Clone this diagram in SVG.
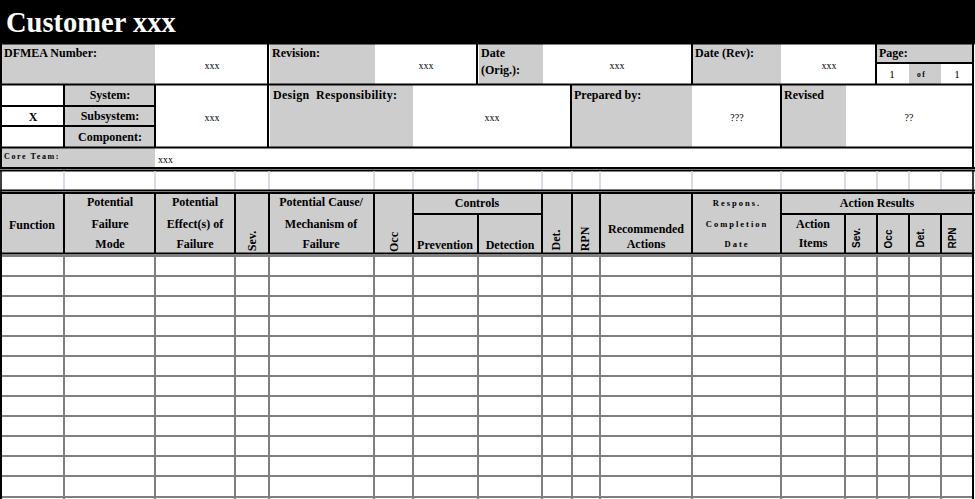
<svg xmlns="http://www.w3.org/2000/svg" width="975" height="499" viewBox="0 0 975 499">
<style>
.g{fill:#cdcdcd}
.b{stroke:#000;stroke-width:2;fill:none}
.b1{stroke:#000;stroke-width:1.5;fill:none}
.gl{stroke:#808080;stroke-width:2;fill:none}
.lb{stroke:#c9d0e3;stroke-width:1.5;fill:none}
.lbl{font-family:"Liberation Serif",serif;font-weight:bold;font-size:12px;fill:#000}
.val{font-family:"Liberation Serif",serif;font-size:10px;fill:#000}
.h{font-family:"Liberation Serif",serif;font-weight:bold;font-size:12px;fill:#000}
.hs{font-family:"Liberation Sans",sans-serif;font-weight:bold;font-size:10px;fill:#000}
.sp{font-family:"Liberation Serif",serif;font-weight:bold;font-size:8.5px;letter-spacing:2px;fill:#000}
.c{text-anchor:middle}
</style>
<rect x="0" y="0" width="975" height="499" fill="#fff"/>

<g id="title">
<rect x="0" y="0" width="975" height="43" fill="#000"/>
<text x="6" y="32" font-family="Liberation Serif, serif" font-weight="bold" font-size="28.5" fill="#fff">Customer xxx</text>
</g>

<g id="row-info">
<rect class="g" x="2" y="44" width="153" height="40"/>
<rect class="g" x="270" y="44" width="105" height="40"/>
<rect class="g" x="479" y="44" width="64" height="40"/>
<rect class="g" x="693" y="44" width="88" height="40"/>
<rect class="g" x="877" y="44" width="96" height="19"/>
<rect class="g" x="909" y="64" width="32" height="20"/>
<text class="lbl" x="4" y="57">DFMEA Number:</text>
<text class="val c" x="212" y="69">xxx</text>
<text class="lbl" x="272" y="57">Revision:</text>
<text class="val c" x="426" y="69">xxx</text>
<text class="lbl" x="481" y="57">Date</text>
<text class="lbl" x="481" y="74">(Orig.):</text>
<text class="val c" x="617" y="69">xxx</text>
<text class="lbl" x="695" y="57">Date (Rev):</text>
<text class="val c" x="829" y="69">xxx</text>
<text class="lbl" x="879" y="57">Page:</text>
<text class="val c" x="892" y="78" style="font-size:11px">1</text>
<text class="sp" x="917" y="77" style="font-size:7.5px;letter-spacing:1.5px">of</text>
<text class="val c" x="957" y="78" style="font-size:11px">1</text>
</g>

<g id="row-scope">
<rect class="g" x="65" y="85" width="90" height="62"/>
<rect class="g" x="270" y="85" width="143" height="62"/>
<rect class="g" x="572" y="85" width="120" height="62"/>
<rect class="g" x="782" y="85" width="64" height="62"/>
<text class="h c" x="33" y="121">X</text>
<text class="lbl c" x="110" y="99">System:</text>
<text class="lbl c" x="110" y="120">Subsystem:</text>
<text class="lbl c" x="110" y="141">Component:</text>
<text class="val c" x="212" y="121">xxx</text>
<text class="lbl" x="273" y="99" xml:space="preserve" style="letter-spacing:0.3px">Design  Responsibility:</text>
<text class="val c" x="492" y="121">xxx</text>
<text class="lbl" x="574" y="99">Prepared by:</text>
<text class="val c" x="737" y="121">???</text>
<text class="lbl" x="784" y="99">Revised</text>
<text class="val c" x="909" y="121">??</text>
</g>

<g id="row-team">
<rect class="g" x="2" y="148" width="153" height="20"/>
<text class="sp" x="4" y="159" style="font-size:8px;letter-spacing:1.6px">Core Team:</text>
<text class="val" x="158" y="163">xxx</text>
</g>

<g id="header-fill">
<rect class="g" x="1" y="193" width="972" height="61"/>
</g>

<g id="header-text">
<text class="h c" x="32" y="229">Function</text>
<text class="h c" x="110" y="206">Potential</text>
<text class="h c" x="110" y="228">Failure</text>
<text class="h c" x="110" y="248">Mode</text>
<text class="h c" x="195" y="206">Potential</text>
<text class="h c" x="195" y="228">Effect(s) of</text>
<text class="h c" x="195" y="248">Failure</text>
<text class="h c" transform="translate(256,241) rotate(-90)">Sev.</text>
<text class="h c" x="321" y="206">Potential Cause/</text>
<text class="h c" x="321" y="228">Mechanism of</text>
<text class="h c" x="321" y="248">Failure</text>
<text class="h c" transform="translate(398,242) rotate(-90)">Occ</text>
<text class="h c" x="477" y="207">Controls</text>
<text class="h c" x="445" y="249">Prevention</text>
<text class="h c" x="510" y="249">Detection</text>
<text class="h c" transform="translate(560,240) rotate(-90)">Det.</text>
<text class="h c" transform="translate(589,239) rotate(-90)">RPN</text>
<text class="h c" x="646" y="233">Recommended</text>
<text class="h c" x="646" y="248">Actions</text>
<text class="sp c" x="737" y="206">Respons.</text>
<text class="sp c" x="737" y="227">Completion</text>
<text class="sp c" x="737" y="247">Date</text>
<text class="h c" x="877" y="207">Action Results</text>
<text class="h c" x="813" y="228">Action</text>
<text class="h c" x="813" y="247">Items</text>
<text class="hs c" transform="translate(860,238) rotate(-90)">Sev.</text>
<text class="hs c" transform="translate(892,239) rotate(-90)">Occ</text>
<text class="hs c" transform="translate(924,238) rotate(-90)">Det.</text>
<text class="hs c" transform="translate(956,238) rotate(-90)">RPN</text>
</g>

<g id="connectors">
<path class="b" d="M1 43V168 M973 43V168 M0 43.5H975 M1 84.5H974 M1 147.5H974 M0 168H975 M0 170.5H975"/>
<path class="b" d="M268 43V147 M477 43V84 M692 43V84 M876 43V84 M877 63H973"/>
<path class="b" d="M64 85V147 M155 85V147 M571 85V147 M781 85V147 M1 106H155 M1 126H155"/>
<path class="lb" d="M64 171V190 M155 171V190 M235 171V190 M269 171V190 M374 171V190 M413 171V190 M478 171V190 M542 171V190 M572 171V190 M600 171V190 M692 171V190 M781 171V190 M845 171V190 M877 171V190 M909 171V190 M941 171V190"/>
<path class="b1" d="M1 170V193 M973 170V193"/>
<path class="b" d="M0 190.5H975 M0 193H975 M1 253.5H974 M413 214H542 M781 214H973"/>
<path class="b" d="M1 193V254 M64 193V254 M155 193V254 M235 193V254 M269 193V254 M374 193V254 M413 193V254 M478 214V254 M542 193V254 M572 193V254 M600 193V254 M692 193V254 M781 193V254 M845 214V254 M877 214V254 M909 214V254 M941 214V254 M973 193V254"/>
<path class="gl" d="M1 256H973 M1 276H973 M1 296H973 M1 316H973 M1 336H973 M1 356H973 M1 376H973 M1 396H973 M1 416H973 M1 436H973 M1 456H973 M1 476H973 M1 497H973"/>
<path class="gl" d="M64 254V499 M155 254V499 M235 254V499 M269 254V499 M374 254V499 M413 254V499 M478 254V499 M542 254V499 M572 254V499 M600 254V499 M692 254V499 M781 254V499 M845 254V499 M877 254V499 M909 254V499 M941 254V499"/>
<path class="b" d="M1 254V499 M973 254V499"/>
</g>
</svg>
